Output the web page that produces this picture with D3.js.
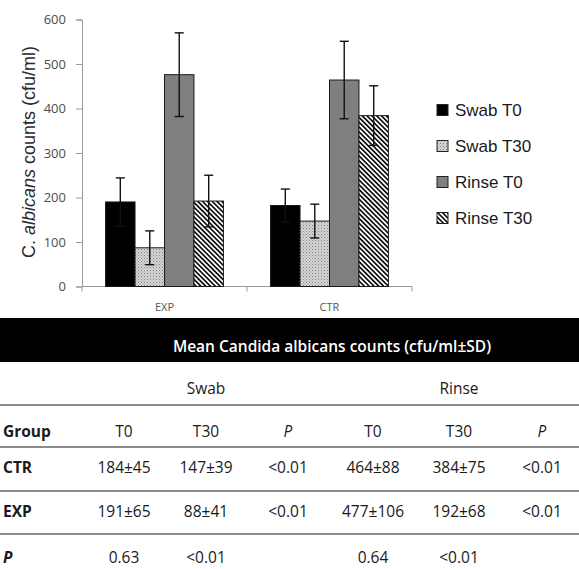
<!DOCTYPE html>
<html>
<head>
<meta charset="utf-8">
<script src="https://cdn.jsdelivr.net/npm/d3@7"></script>
<style>
  body { margin: 0; background: #fff; }
  svg { display: block; }
</style>
</head>
<body>
<div id="chart"></div>
<script>
// chart values
var groups = ["EXP", "CTR"];
var series = ["Swab T0", "Swab T30", "Rinse T0", "Rinse T30"];
var expMeans = [190, 87, 476, 192];
var expErr = [54, 38, 94, 58];
var ctrMeans = [182, 147, 464, 384];
var ctrErr = [37, 38, 87, 67];
var yTicks = [0, 100, 200, 300, 400, 500, 600];

// table below the chart
var tableTitle = "Mean Candida albicans counts (cfu/ml\u00b1SD)";
var methods = ["Swab", "Rinse"];
var colHeaders = ["T0", "T30", "P", "T0", "T30", "P"];
var rowLabels = ["CTR", "EXP", "P"];
var ctrRow = ["184\u00b145", "147\u00b139", "<0.01", "464\u00b188", "384\u00b175", "<0.01"];
var expRow = ["191\u00b165", "88\u00b141", "<0.01", "477\u00b1106", "192\u00b168", "<0.01"];
var pRow = ["0.63", "<0.01", "", "0.64", "<0.01", ""];

var width = 579, height = 569;
var svg = d3.select("#chart").append("svg")
    .attr("width", width)
    .attr("height", height);

var defs = svg.append("defs");
var dots = defs.append("pattern")
    .attr("id", "dots")
    .attr("patternUnits", "userSpaceOnUse")
    .attr("width", 3).attr("height", 3);
dots.append("rect").attr("width", 3).attr("height", 3).attr("fill", "#d6d6d6");
dots.append("rect").attr("width", 1).attr("height", 1).attr("fill", "#808080");
dots.append("rect").attr("x", 1.5).attr("y", 1.5).attr("width", 1).attr("height", 1).attr("fill", "#999");

var stripes = defs.append("pattern")
    .attr("id", "stripes")
    .attr("patternUnits", "userSpaceOnUse")
    .attr("width", 3.4).attr("height", 10)
    .attr("patternTransform", "rotate(-45)");
stripes.append("rect").attr("width", 3.4).attr("height", 10).attr("fill", "#fff");
stripes.append("rect").attr("width", 1.7).attr("height", 10).attr("fill", "#111");

var fills = {"Swab T0": "#000", "Swab T30": "url(#dots)", "Rinse T0": "#7f7f7f", "Rinse T30": "url(#stripes)"};

var x = d3.scaleBand().domain(groups).range([82, 412]);
var xs = d3.scaleBand().domain(series).range([0, x.bandwidth()]).paddingOuter(0.8);
var y = d3.scaleLinear().domain([0, 600]).range([286.5, 19.5]);

var bars = groups.map(function(g, gi) {
  var m = gi == 0 ? expMeans : ctrMeans;
  var e = gi == 0 ? expErr : ctrErr;
  return series.map(function(s, si) {
    return {group: g, key: s, value: m[si], err: e[si]};
  });
}).flat();

// y axis
var yAxis = d3.axisLeft(y).tickValues(yTicks).tickSize(6).tickPadding(10);
var ga = svg.append("g").attr("transform", "translate(82,0)").call(yAxis);
ga.select(".domain").attr("stroke", "#9a9a9a");
ga.selectAll(".tick line").attr("stroke", "#9a9a9a");
ga.selectAll("text")
    .attr("font-family", "Open Sans")
    .attr("font-size", 13)
    .attr("fill", "#4d4d4d");

// x axis: baseline with ticks on the category boundaries
var xa = svg.append("g");
xa.append("line")
    .attr("x1", x.range()[0]).attr("x2", x.range()[1])
    .attr("y1", y(0)).attr("y2", y(0))
    .attr("stroke", "#9a9a9a");
xa.selectAll("line.b")
    .data(groups.map(function(g) { return x(g); }).concat([x.range()[1]]))
  .enter().append("line")
    .attr("class", "b")
    .attr("x1", function(d) { return d; }).attr("x2", function(d) { return d; })
    .attr("y1", y(0)).attr("y2", y(0) + 5)
    .attr("stroke", "#9a9a9a");
xa.selectAll("text")
    .data(groups)
  .enter().append("text")
    .attr("x", function(d) { return x(d) + x.bandwidth() / 2; })
    .attr("y", 311)
    .attr("text-anchor", "middle")
    .attr("font-family", "Open Sans")
    .attr("font-size", 11)
    .attr("fill", "#555")
    .text(function(d) { return d; });

// bars
svg.append("g").selectAll("rect")
    .data(bars)
  .enter().append("rect")
    .attr("x", function(d) { return x(d.group) + xs(d.key); })
    .attr("y", function(d) { return y(d.value); })
    .attr("width", xs.bandwidth())
    .attr("height", function(d) { return y(0) - y(d.value); })
    .attr("fill", function(d) { return fills[d.key]; })
    .attr("stroke", "#1a1a1a")
    .attr("stroke-width", 1);

// error bars
var eb = svg.append("g").attr("stroke", "#111").attr("stroke-width", 1.4);
bars.forEach(function(d) {
  var cx = x(d.group) + xs(d.key) + xs.bandwidth() / 2;
  eb.append("line").attr("x1", cx).attr("x2", cx)
    .attr("y1", y(d.value + d.err)).attr("y2", y(d.value - d.err));
  eb.append("line").attr("x1", cx - 4.5).attr("x2", cx + 4.5)
    .attr("y1", y(d.value + d.err)).attr("y2", y(d.value + d.err));
  eb.append("line").attr("x1", cx - 4.5).attr("x2", cx + 4.5)
    .attr("y1", y(d.value - d.err)).attr("y2", y(d.value - d.err));
});

// y title
var yt = svg.append("text")
    .attr("transform", "translate(35,152) rotate(-90)")
    .attr("text-anchor", "middle")
    .attr("font-family", "Liberation Sans")
    .attr("font-size", 18)
    .attr("fill", "#2a2a2a");
yt.append("tspan").text("C. ");
yt.append("tspan").attr("font-style", "italic").text("albicans");
yt.append("tspan").text(" counts (cfu/ml)");

// legend
var leg = svg.append("g").selectAll("g")
    .data(series)
  .enter().append("g")
    .attr("transform", function(d, i) { return "translate(437," + (110 + i * 36) + ")"; });
leg.append("rect")
    .attr("x", 0).attr("y", -5.5)
    .attr("width", 11).attr("height", 11)
    .attr("fill", function(d) { return fills[d]; })
    .attr("stroke", "#222");
leg.append("text")
    .attr("x", 18).attr("y", 6)
    .attr("font-family", "Liberation Sans")
    .attr("font-size", 17)
    .attr("fill", "#1a1a1a")
    .text(function(d) { return d; });

// table
var cols = [124, 206, 288, 373, 459, 542];
var tb = svg.append("g")
    .attr("font-family", "Open Sans")
    .attr("font-size", 15.5)
    .attr("fill", "#1a1a1a");

tb.append("rect").attr("x", 0).attr("y", 318).attr("width", width).attr("height", 44).attr("fill", "#000");
tb.append("text")
    .attr("x", 332).attr("y", 352)
    .attr("text-anchor", "middle")
    .attr("font-weight", 600)
    .attr("fill", "#fff")
    .text(tableTitle);

tb.selectAll("text.m")
    .data(methods)
  .enter().append("text")
    .attr("class", "m")
    .attr("x", function(d, i) { return cols[i * 3 + 1]; })
    .attr("y", 394)
    .attr("text-anchor", "middle")
    .text(function(d) { return d; });

[405, 447, 491, 534].forEach(function(ly) {
  tb.append("line").attr("x1", 0).attr("x2", width)
    .attr("y1", ly).attr("y2", ly)
    .attr("stroke", "#8c8c8c").attr("stroke-width", 2);
});

var rowY = [437, 473, 517, 563];
tb.append("text").attr("x", 3).attr("y", rowY[0]).attr("font-weight", 700).text("Group");
tb.selectAll("text.h")
    .data(colHeaders)
  .enter().append("text")
    .attr("class", "h")
    .attr("x", function(d, i) { return cols[i]; })
    .attr("y", rowY[0])
    .attr("text-anchor", "middle")
    .attr("font-style", function(d) { return d == "P" ? "italic" : null; })
    .text(function(d) { return d; });

[ctrRow, expRow, pRow].forEach(function(row, r) {
  tb.append("text")
    .attr("x", 3).attr("y", rowY[r + 1])
    .attr("font-weight", 700)
    .attr("font-style", rowLabels[r] == "P" ? "italic" : null)
    .text(rowLabels[r]);
  tb.selectAll("text.r" + r)
      .data(row)
    .enter().append("text")
      .attr("class", "r" + r)
      .attr("x", function(d, i) { return cols[i]; })
      .attr("y", rowY[r + 1])
      .attr("text-anchor", "middle")
      .text(function(d) { return d; });
});
</script>
</body>
</html>
